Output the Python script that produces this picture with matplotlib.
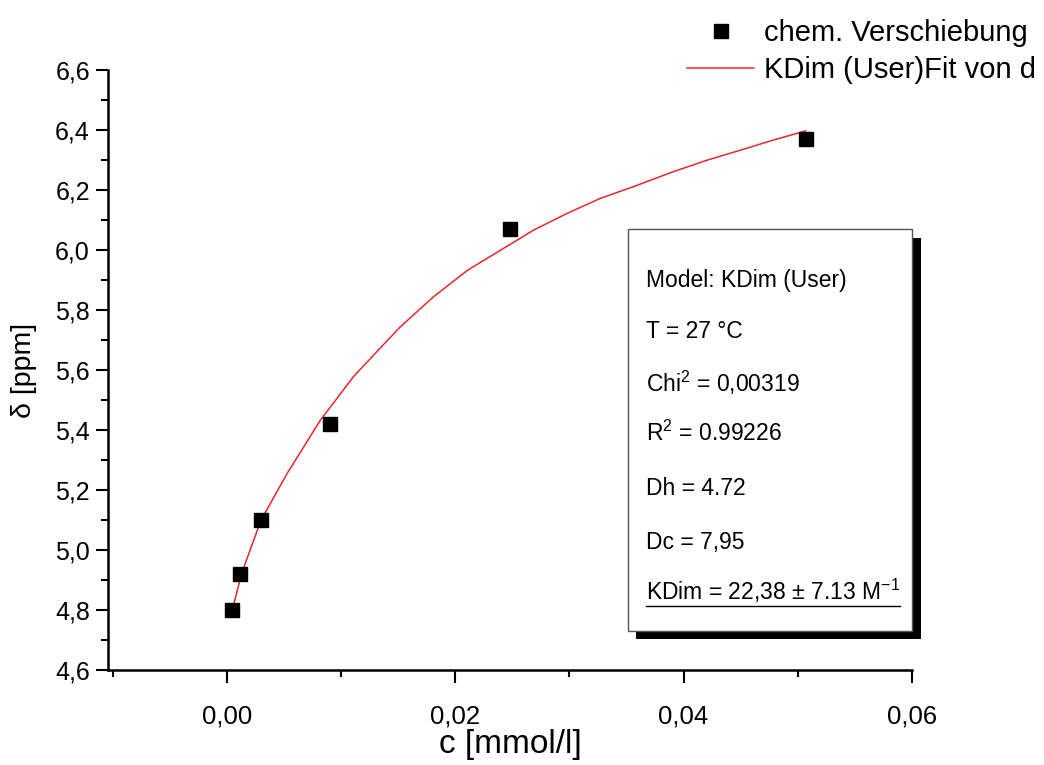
import matplotlib
matplotlib.use("Agg")
import matplotlib.pyplot as plt
from matplotlib import font_manager as fm
from matplotlib.ticker import MultipleLocator, FuncFormatter
from matplotlib.patches import Rectangle
from matplotlib.lines import Line2D

# ------------------------------------------------------------
# Daten
# ------------------------------------------------------------
c_mess = [0.0005, 0.0012, 0.0030, 0.0090, 0.0248, 0.0507]
delta_mess = [4.80, 4.92, 5.10, 5.42, 6.07, 6.37]

c_fit = [0.0006, 0.0013, 0.0030, 0.0053, 0.0082, 0.0111, 0.0141, 0.0152,
         0.0181, 0.0211, 0.0240, 0.0269, 0.0298, 0.0327, 0.0356, 0.0391,
         0.0421, 0.0450, 0.0479, 0.0507]
delta_fit = [4.817, 4.922, 5.100, 5.256, 5.433, 5.578, 5.700, 5.744,
             5.844, 5.933, 6.000, 6.067, 6.122, 6.172, 6.211, 6.261,
             6.300, 6.333, 6.367, 6.397]

box_zeilen = [
    "Model: KDim (User)",
    "T = 27 °C",
    "Chi$^2$ = 0,00319",
    "R$^2$ = 0.99226",
    "Dh = 4.72",
    "Dc = 7,95",
    "KDim = 22,38 ± 7.13 M$^{-1}$",
]

plt.rcParams.update({
    "font.family": ["Liberation Sans", "DejaVu Sans"],
    "mathtext.fontset": "custom",
    "mathtext.rm": "Liberation Sans",
    "mathtext.it": "Liberation Sans:italic",
})

# schmale Schrift für die x-Achse, falls vorhanden
narrow_ok = any(f.name == "Liberation Sans Narrow" for f in fm.fontManager.ttflist)
if narrow_ok:
    x_family = ["Liberation Sans Narrow", "Liberation Sans"]
    x_tick_size, x_label_size = 20.5, 26
else:
    x_family = ["Liberation Sans", "DejaVu Sans"]
    x_tick_size, x_label_size = 18.5, 24

W, H = 1044, 765
fig = plt.figure(figsize=(W / 100, H / 100), dpi=100)


def fx(px):
    return px / W


def fy(py):
    return 1 - py / H


ax = fig.add_axes([fx(108), fy(670), fx(912) - fx(108), fy(70) - fy(670)])

ax.plot(c_fit, delta_fit, color="#e8262b", lw=1.1, label="KDim (User)Fit von d", zorder=2)
ax.plot(c_mess, delta_mess, ls="none", marker="s", ms=9.5, color="black",
        label="chem. Verschiebung", zorder=3)

ax.set_xlim(-0.0104, 0.06)
ax.set_ylim(4.6, 6.6)

for s in ["top", "right"]:
    ax.spines[s].set_visible(False)
for s in ["left", "bottom"]:
    ax.spines[s].set_linewidth(1.8)

ax.xaxis.set_major_locator(MultipleLocator(0.02))
ax.xaxis.set_minor_locator(MultipleLocator(0.01))
ax.yaxis.set_major_locator(MultipleLocator(0.2))
ax.yaxis.set_minor_locator(MultipleLocator(0.1))
ax.xaxis.set_major_formatter(FuncFormatter(lambda v, p: f"{v:.2f}".replace(".", ",")))
ax.yaxis.set_major_formatter(FuncFormatter(lambda v, p: f"{v:.1f}".replace(".", ",")))

ax.tick_params(axis="both", which="major", direction="out", length=9, width=1.5)
ax.tick_params(axis="both", which="minor", direction="out", length=5, width=1.5)
ax.tick_params(axis="y", which="major", labelsize=18, pad=4)
ax.tick_params(axis="x", which="major", labelsize=x_tick_size, pad=16)

ax.set_xlabel("c [mmol/l]", fontsize=x_label_size, family=x_family)
ax.set_ylabel("δ [ppm]", fontsize=20.5)
ax.xaxis.set_label_coords(0.5, (fy(729) - fy(670)) / (fy(70) - fy(670)))
ax.yaxis.set_label_coords((fx(37) - fx(108)) / (fx(912) - fx(108)), 0.5)

# Textbox mit Schatten
schatten = Rectangle((fx(636), fy(639)), fx(921) - fx(636), fy(238) - fy(639),
                     transform=fig.transFigure, facecolor="black", edgecolor="none", zorder=5)
box = Rectangle((fx(628), fy(631)), fx(912) - fx(628), fy(229) - fy(631),
                transform=fig.transFigure, facecolor="white", edgecolor="#555555",
                lw=1.0, zorder=6)
fig.add_artist(schatten)
fig.add_artist(box)

zeilen_y = [281, 331, 383, 433, 489, 543, 591]
texte = []
for zeile, py in zip(box_zeilen, zeilen_y):
    t = fig.text(fx(646), fy(py), zeile, fontsize=16.5, va="center", ha="left", zorder=7)
    texte.append(t)

# x-Tickbeschriftungen in der gewählten Schrift
fig.canvas.draw()
for lab in ax.get_xticklabels():
    lab.set_family(x_family)

# Unterstreichung der letzten Zeile
bb = texte[-1].get_window_extent()
unter_y = fy(606)
fig.add_artist(Line2D([bb.x0 / W, bb.x1 / W], [unter_y, unter_y], transform=fig.transFigure,
                      color="black", lw=1.0, zorder=7))

# Legende oben rechts
handles, labels = ax.get_legend_handles_labels()
fig.legend(handles[::-1], labels[::-1], loc="upper left", bbox_to_anchor=(fx(687), fy(19)),
           frameon=False, fontsize=21, handlelength=2.3, handletextpad=0.35,
           labelspacing=0.3, borderpad=0, borderaxespad=0, numpoints=1)

fig.savefig("out.png", dpi=100)
